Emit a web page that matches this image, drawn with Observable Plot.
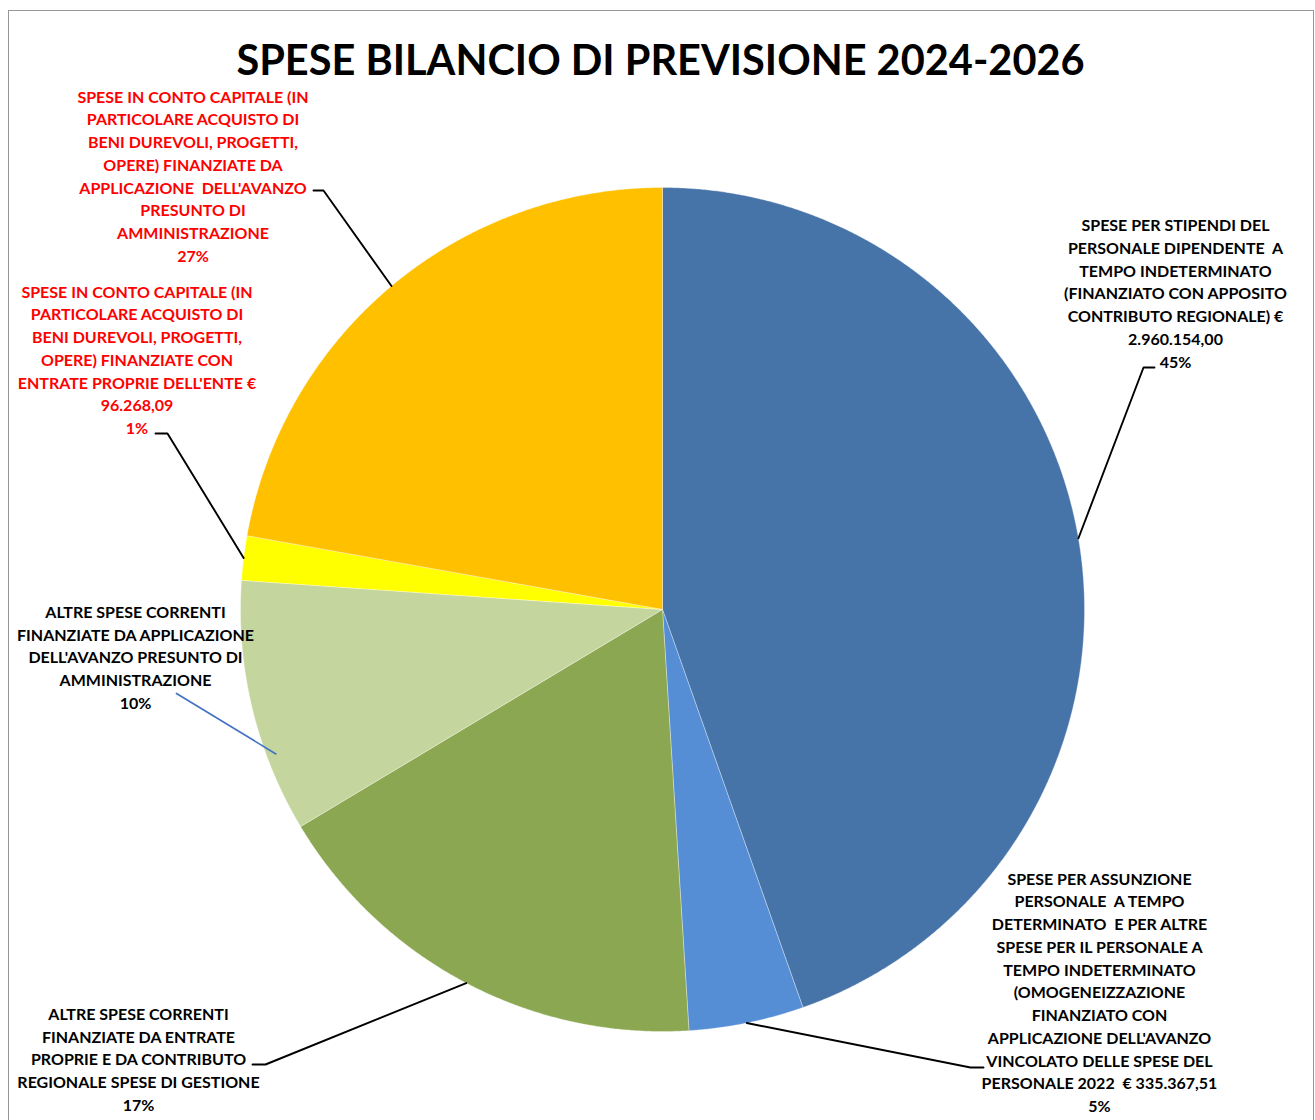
<!DOCTYPE html>
<html>
<head>
<meta charset="utf-8">
<script src="https://cdn.jsdelivr.net/npm/d3@7"></script>
<script src="https://cdn.jsdelivr.net/npm/@observablehq/plot@0.6"></script>
<style>
  html, body { margin: 0; padding: 0; background: #ffffff; }
  #wrap { position: relative; width: 1315px; height: 1120px; overflow: hidden; }
  #frame { position: absolute; left: 8px; top: 10px; width: 1306px; height: 1200px;
           border: 1.5px solid #969696; box-sizing: border-box; pointer-events: none; }
  #chart { position: absolute; left: 0; top: 0; }
</style>
</head>
<body>
<div id="wrap"><div id="chart"></div><div id="frame"></div></div>
<script>
// ---------------- DATA ----------------
const title = "SPESE BILANCIO DI PREVISIONE 2024-2026";

const categories = [
  "Stipendi personale a tempo indeterminato",
  "Assunzione personale a tempo determinato e altre spese personale",
  "Altre spese correnti da entrate proprie e contributo regionale",
  "Altre spese correnti da avanzo presunto",
  "Spese in conto capitale da entrate proprie",
  "Spese in conto capitale da avanzo presunto"
];

// slice shares (%)
const shares = [44.6, 4.4, 17.4, 9.7, 1.7, 22.2];

// label texts exactly as printed
const labelLines = [
  ["SPESE PER STIPENDI DEL", "PERSONALE DIPENDENTE  A", "TEMPO INDETERMINATO", "(FINANZIATO CON APPOSITO", "CONTRIBUTO REGIONALE) €", "2.960.154,00"],
  ["SPESE PER ASSUNZIONE", "PERSONALE  A TEMPO", "DETERMINATO  E PER ALTRE", "SPESE PER IL PERSONALE A", "TEMPO INDETERMINATO", "(OMOGENEIZZAZIONE", "FINANZIATO CON", "APPLICAZIONE DELL'AVANZO", "VINCOLATO DELLE SPESE DEL", "PERSONALE 2022  € 335.367,51"],
  ["ALTRE SPESE CORRENTI", "FINANZIATE DA ENTRATE", "PROPRIE E DA CONTRIBUTO", "REGIONALE SPESE DI GESTIONE"],
  ["ALTRE SPESE CORRENTI", "FINANZIATE DA APPLICAZIONE", "DELL'AVANZO PRESUNTO DI", "AMMINISTRAZIONE"],
  ["SPESE IN CONTO CAPITALE (IN", "PARTICOLARE ACQUISTO DI", "BENI DUREVOLI, PROGETTI,", "OPERE) FINANZIATE CON", "ENTRATE PROPRIE DELL'ENTE €", "96.268,09"],
  ["SPESE IN CONTO CAPITALE (IN", "PARTICOLARE ACQUISTO DI", "BENI DUREVOLI, PROGETTI,", "OPERE) FINANZIATE DA", "APPLICAZIONE  DELL'AVANZO", "PRESUNTO DI", "AMMINISTRAZIONE"]
];
const percentLabels = ["45%", "5%", "17%", "10%", "1%", "27%"];

// ---------------- STYLE / LAYOUT ----------------
const palette = ["#4673A8", "#558ED5", "#8BA751", "#C4D69D", "#FFFF00", "#FFC000"];
const labelInk = ["#000000", "#000000", "#000000", "#000000", "#FF0000", "#FF0000"];
const W = 1315, H = 1120;
const CX = 662, CY = 609, R = 422;
const FONT = "Lato";
const FS = 16, LH = 22.75;
// label block centres (pixels) and leader elbows/ends
const labelPos = [
  {x: 1175, y: 291.5}, {x: 1099, y: 990.5}, {x: 138, y: 1057.5},
  {x: 135, y: 655.5}, {x: 136.5, y: 358}, {x: 192.5, y: 174.5}
];
const leaderPath = [
  [[1143, 367], [1154, 367]],
  [[970, 1067], [983, 1067]],
  [[265, 1064], [252, 1064]],
  null,
  [[167, 433], [155, 433]],
  [[323, 190], [313, 190]]
];

// ---------------- BUILD ----------------
const data = categories.map((c, i) => ({category: c, share: shares[i], i}));
const arcs = d3.pie().sort(null).value(d => d.share)(data);
const px = a => CX + R * Math.sin(a);
const py = a => CY - R * Math.cos(a);

const marks = [];
arcs.forEach((p, i) => {
  const pts = [{x: CX, y: CY}];
  const n = Math.max(2, Math.ceil((p.endAngle - p.startAngle) / (Math.PI / 720)));
  for (let k = 0; k <= n; k++) {
    const a = p.startAngle + (p.endAngle - p.startAngle) * k / n;
    pts.push({x: px(a), y: py(a)});
  }
  pts.push({x: CX, y: CY});
  marks.push(Plot.line(pts, {x: "x", y: "y", fill: palette[i], stroke: "#ffffff",
    strokeWidth: 0.6, strokeOpacity: 0.55, curve: "linear"}));
});

// leader lines from slice mid-angles
const leaders = [];
arcs.forEach((p, i) => {
  if (!leaderPath[i]) return;
  const m = (p.startAngle + p.endAngle) / 2;
  leaders.push({id: i, x: px(m), y: py(m)});
  leaderPath[i].forEach(([x, y]) => leaders.push({id: i, x, y}));
});
marks.push(Plot.line(leaders, {x: "x", y: "y", z: "id", stroke: "#000000", strokeWidth: 1.9, curve: "linear"}));
// the light green slice has a short blue pointer that ends inside the slice
{
  const p = arcs[3];
  const a = p.startAngle + (p.endAngle - p.startAngle) * 0.3;
  const inner = 0.978;
  marks.push(Plot.line([{x: 176, y: 693}, {x: CX + inner * R * Math.sin(a), y: CY - inner * R * Math.cos(a)}],
    {x: "x", y: "y", stroke: "#4472C4", strokeWidth: 1.7}));
}

const labels = arcs.map((p, i) => ({
  x: labelPos[i].x, y: labelPos[i].y,
  text: labelLines[i].concat([percentLabels[i]]).join("\n"),
  ink: labelInk[i]
}));
marks.push(Plot.text(labels, {x: "x", y: "y", text: "text", fill: "ink",
  fontSize: FS, fontWeight: "bold", fontFamily: FONT, lineHeight: LH / FS,
  textAnchor: "middle", lineAnchor: "middle"}));

marks.push(Plot.text([title], {x: () => 660, y: () => 61, text: d => d,
  fontSize: 41.5, fontWeight: "bold", fontFamily: FONT, fill: "#000000",
  textAnchor: "middle", lineAnchor: "middle"}));

const chart = Plot.plot({
  width: W, height: H, margin: 0,
  x: {type: "linear", domain: [0, W], range: [0, W], axis: null},
  y: {type: "linear", domain: [0, H], range: [0, H], axis: null},
  color: {type: "identity"},
  style: {background: "transparent", fontFamily: FONT, overflow: "visible"},
  marks
});
document.getElementById("chart").appendChild(chart);
</script>
</body>
</html>
